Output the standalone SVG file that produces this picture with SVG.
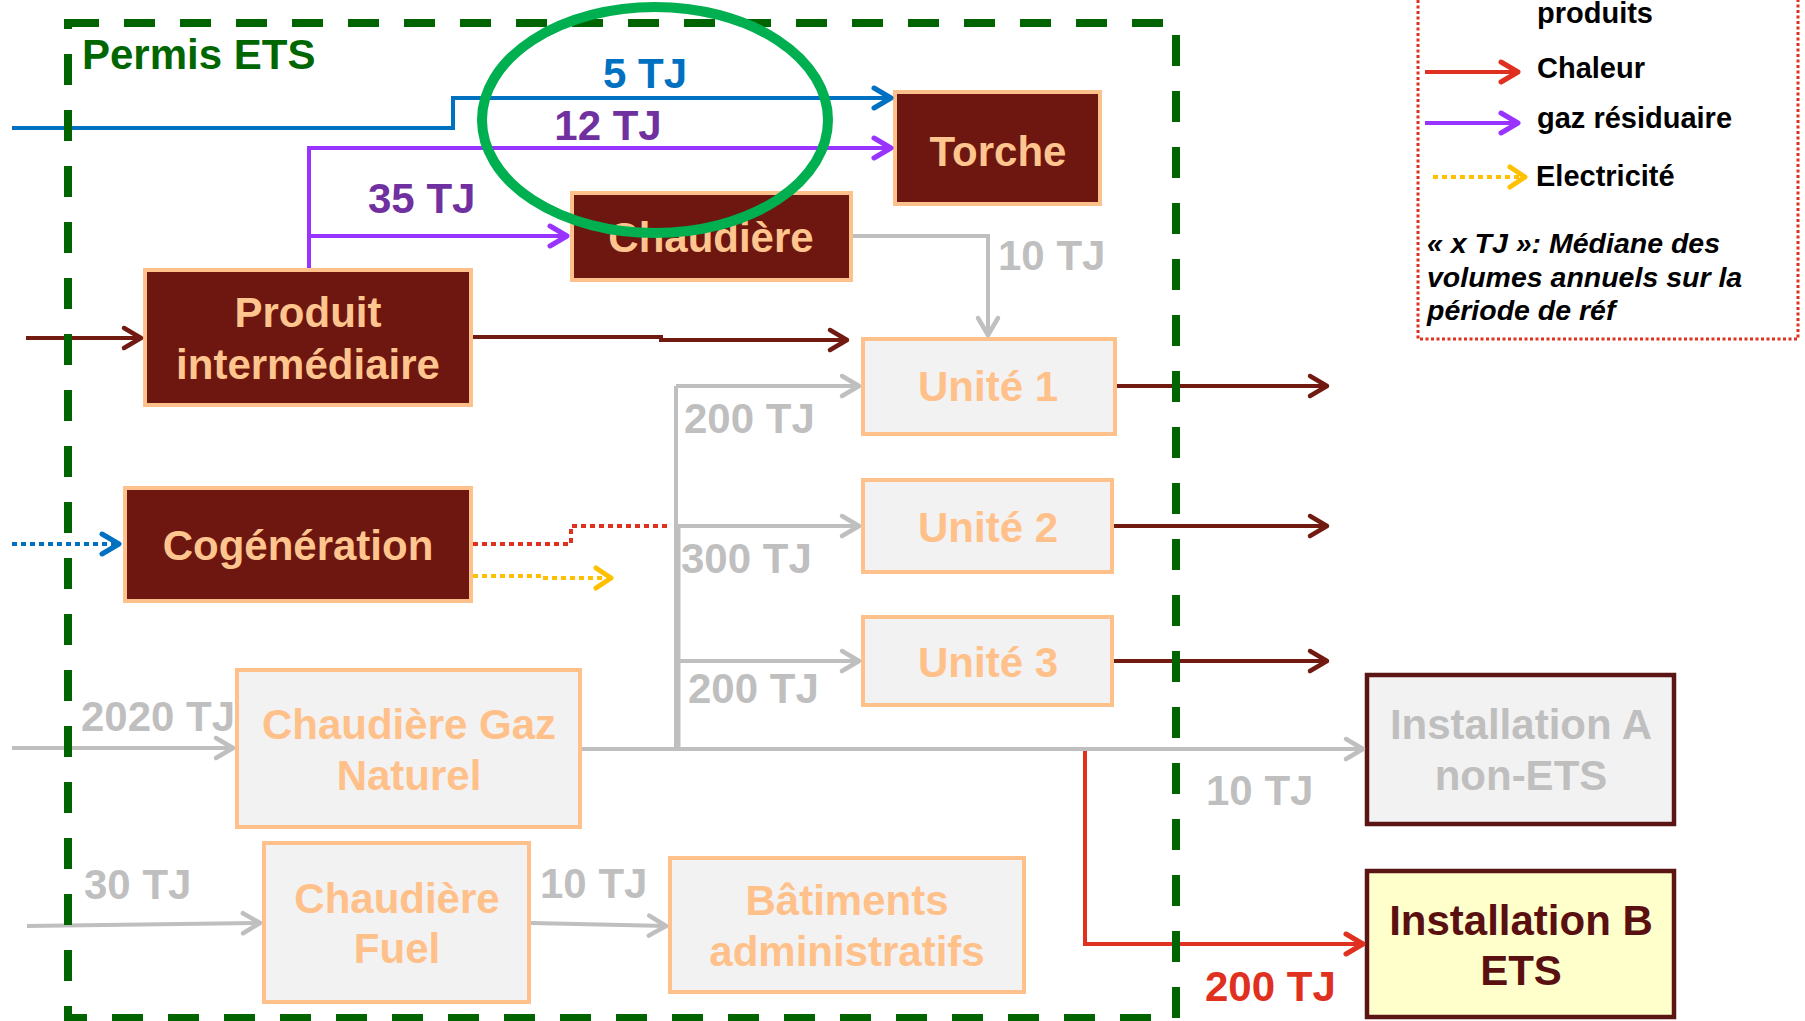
<svg xmlns="http://www.w3.org/2000/svg" width="1805" height="1021" viewBox="0 0 1805 1021">
  <style>
    text { font-family: "Liberation Sans", Arial, sans-serif; font-weight: bold; }
    .lbl { font-size: 42px; }
    .mid { text-anchor: middle; }
    .dark rect { fill: #6E1711; stroke: #FFC18B; stroke-width: 4; }
    .dark text { fill: #FFC58F; }
    .light rect { fill: #F2F2F2; stroke: #FFC18B; stroke-width: 4; }
    .light text { fill: #FFC08A; }
    .inst rect { stroke: #5C1515; stroke-width: 4.5; }
    .c { fill: none; stroke-width: 4; stroke-linejoin: miter; }
    .gray { stroke: #BFBFBF; }
    .brown { stroke: #701A12; }
    .blue { stroke: #0070C0; }
    .violet { stroke: #9933FF; }
    .red { stroke: #E03020; }
    .yellow { stroke: #FFC000; }
    .dot { stroke-dasharray: 5 4; }
    .tGray { fill: #BFBFBF; }
    .tViolet { fill: #7030A0; }
    .tBlue { fill: #0070C0; }
    .tRed { fill: #E03020; }
    .leg { font-size: 29px; fill: #000; }
    .note { font-size: 28.5px; font-style: italic; fill: #000; }
  </style>
  <defs>
    <marker id="mGray" viewBox="-25 -15 30 30" markerWidth="30" markerHeight="30" refX="0" refY="0" orient="auto" markerUnits="userSpaceOnUse">
      <path d="M-18,-10 L-1,0 L-18,10" fill="none" stroke="#BFBFBF" stroke-width="4.5" stroke-linecap="round" stroke-linejoin="round"/>
    </marker>
    <marker id="mBrown" viewBox="-25 -15 30 30" markerWidth="30" markerHeight="30" refX="0" refY="0" orient="auto" markerUnits="userSpaceOnUse">
      <path d="M-18,-10 L-1,0 L-18,10" fill="none" stroke="#701A12" stroke-width="4.5" stroke-linecap="round" stroke-linejoin="round"/>
    </marker>
    <marker id="mBlue" viewBox="-25 -15 30 30" markerWidth="30" markerHeight="30" refX="0" refY="0" orient="auto" markerUnits="userSpaceOnUse">
      <path d="M-18,-10 L-1,0 L-18,10" fill="none" stroke="#0070C0" stroke-width="5" stroke-linecap="round" stroke-linejoin="round"/>
    </marker>
    <marker id="mViolet" viewBox="-25 -15 30 30" markerWidth="30" markerHeight="30" refX="0" refY="0" orient="auto" markerUnits="userSpaceOnUse">
      <path d="M-18,-10 L-1,0 L-18,10" fill="none" stroke="#9933FF" stroke-width="5" stroke-linecap="round" stroke-linejoin="round"/>
    </marker>
    <marker id="mRed" viewBox="-25 -15 30 30" markerWidth="30" markerHeight="30" refX="0" refY="0" orient="auto" markerUnits="userSpaceOnUse">
      <path d="M-18,-10 L-1,0 L-18,10" fill="none" stroke="#E03020" stroke-width="5" stroke-linecap="round" stroke-linejoin="round"/>
    </marker>
    <marker id="mYellow" viewBox="-25 -15 30 30" markerWidth="30" markerHeight="30" refX="0" refY="0" orient="auto" markerUnits="userSpaceOnUse">
      <path d="M-16,-10 L-1,0 L-16,10" fill="none" stroke="#FFC000" stroke-width="5" stroke-linecap="round" stroke-linejoin="round"/>
    </marker>
  </defs>

  <!-- nodes -->
  <g id="torche" class="dark">
    <rect x="895" y="92" width="205" height="112"/>
    <text class="lbl mid" x="998" y="166">Torche</text>
  </g>
  <g id="chaudiere" class="dark">
    <rect x="572" y="193" width="279" height="87"/>
    <text class="lbl mid" x="711" y="252">Chaudière</text>
  </g>
  <g id="produit" class="dark">
    <rect x="145" y="270" width="326" height="135"/>
    <text class="lbl mid" x="308" y="327">Produit</text>
    <text class="lbl mid" x="308" y="379">intermédiaire</text>
  </g>
  <g id="cogeneration" class="dark">
    <rect x="125" y="488" width="346" height="113"/>
    <text class="lbl mid" x="298" y="560">Cogénération</text>
  </g>
  <g id="unite1" class="light">
    <rect x="863" y="339" width="252" height="95"/>
    <text class="lbl mid" x="988" y="401">Unité 1</text>
  </g>
  <g id="unite2" class="light">
    <rect x="863" y="480" width="249" height="92"/>
    <text class="lbl mid" x="988" y="542">Unité 2</text>
  </g>
  <g id="unite3" class="light">
    <rect x="863" y="617" width="249" height="88"/>
    <text class="lbl mid" x="988" y="677">Unité 3</text>
  </g>
  <g id="chaudiere-gaz" class="light">
    <rect x="237" y="670" width="343" height="157"/>
    <text class="lbl mid" x="409" y="739">Chaudière Gaz</text>
    <text class="lbl mid" x="409" y="790">Naturel</text>
  </g>
  <g id="chaudiere-fuel" class="light">
    <rect x="264" y="843" width="265" height="159"/>
    <text class="lbl mid" x="397" y="913">Chaudière</text>
    <text class="lbl mid" x="397" y="963">Fuel</text>
  </g>
  <g id="batiments" class="light">
    <rect x="670" y="858" width="354" height="134"/>
    <text class="lbl mid" x="847" y="915">Bâtiments</text>
    <text class="lbl mid" x="847" y="966">administratifs</text>
  </g>
  <g id="installation-a" class="inst">
    <rect x="1367" y="675" width="307" height="149" fill="#F2F2F2"/>
    <text class="lbl mid tGray" x="1521" y="739">Installation A</text>
    <text class="lbl mid tGray" x="1521" y="790">non-ETS</text>
  </g>
  <g id="installation-b" class="inst">
    <rect x="1367" y="871" width="307" height="146" fill="#FFFFCC"/>
    <text class="lbl mid" x="1521" y="935" fill="#5A1010">Installation B</text>
    <text class="lbl mid" x="1521" y="985" fill="#5A1010">ETS</text>
  </g>

  <!-- connectors -->
  <g id="connectors">
    <path class="c blue" d="M12,128 H453 V98 H892" marker-end="url(#mBlue)"/>
    <path class="c violet" d="M309,268 V148 H892" marker-end="url(#mViolet)"/>
    <path class="c violet" d="M309,236 H568" marker-end="url(#mViolet)"/>
    <path class="c brown" d="M26,338 H142" marker-end="url(#mBrown)"/>
    <path class="c brown" d="M473,337 H661 V340 H848" marker-end="url(#mBrown)"/>
    <path class="c gray" d="M853,236 H988 V336" marker-end="url(#mGray)"/>
    <path class="c brown" d="M1117,386 H1328" marker-end="url(#mBrown)"/>
    <path class="c brown" d="M1114,526 H1328" marker-end="url(#mBrown)"/>
    <path class="c brown" d="M1114,661 H1328" marker-end="url(#mBrown)"/>
    <!-- heat line, its horizontal run hidden under the gas trunk -->
    <path class="c red" d="M582,749 H1085 V944 H1364" marker-end="url(#mRed)"/>
    <path class="c gray" d="M676,386 V748"/>
    <path class="c gray" d="M678.5,526 V748" stroke-width="10"/>
    <path class="c gray" d="M676,386 H860" marker-end="url(#mGray)"/>
    <path class="c gray" d="M676,526 H860" marker-end="url(#mGray)"/>
    <path class="c gray" d="M676,661 H860" marker-end="url(#mGray)"/>
    <path class="c gray" d="M12,748 H234" marker-end="url(#mGray)"/>
    <path class="c gray" d="M582,749 H1364" stroke-width="5.5" marker-end="url(#mGray)"/>
    <path class="c gray" d="M27,926 L261,923" marker-end="url(#mGray)"/>
    <path class="c gray" d="M531,923 L667,926" marker-end="url(#mGray)"/>
    <path class="c blue dot" d="M12,544 H120" marker-end="url(#mBlue)"/>
    <path class="c red dot" d="M473,544 H571 V526 H670"/>
    <path class="c yellow dot" d="M473,576 H542 V578 H612" marker-end="url(#mYellow)"/>
  </g>

  <!-- flow labels -->
  <g id="flow-labels">
    <text class="lbl mid tBlue" x="645" y="88">5 TJ</text>
    <text class="lbl mid tViolet" x="608" y="140">12 TJ</text>
    <text class="lbl tViolet" x="368" y="213">35 TJ</text>
    <text class="lbl tGray" x="998" y="270">10 TJ</text>
    <text class="lbl tGray" x="684" y="433">200 TJ</text>
    <text class="lbl tGray" x="681" y="573">300 TJ</text>
    <text class="lbl tGray" x="688" y="703">200 TJ</text>
    <text class="lbl tGray" x="81" y="731">2020 TJ</text>
    <text class="lbl tGray" x="84" y="899">30 TJ</text>
    <text class="lbl tGray" x="540" y="898">10 TJ</text>
    <text class="lbl tGray" x="1206" y="805">10 TJ</text>
    <text class="lbl tRed" x="1205" y="1001">200 TJ</text>
  </g>

  <!-- ETS permit boundary -->
  <g id="permis-ets">
    <rect x="68" y="23" width="1108" height="995" fill="none" stroke="#006400" stroke-width="8" stroke-dasharray="31 25"/>
    <text x="82" y="69" font-size="42" fill="#006600">Permis ETS</text>
  </g>

  <!-- highlight -->
  <ellipse cx="655" cy="120" rx="173" ry="113" fill="none" stroke="#00B050" stroke-width="10"/>

  <!-- legend -->
  <g id="legend">
    <path d="M1418,0 V339 H1798 V0" fill="none" stroke="#E03020" stroke-width="3" stroke-dasharray="3 2.5"/>
    <text class="leg" x="1537" y="23">produits</text>
    <path class="c red" d="M1425,72 H1519" stroke-width="4.5" marker-end="url(#mRed)"/>
    <text class="leg" x="1537" y="78">Chaleur</text>
    <path class="c violet" d="M1425,123 H1519" stroke-width="4.5" marker-end="url(#mViolet)"/>
    <text class="leg" x="1537" y="128">gaz résiduaire</text>
    <path class="c yellow dot" d="M1433,177 H1526" marker-end="url(#mYellow)"/>
    <text class="leg" x="1536" y="186">Electricité</text>
    <text class="note" x="1427" y="253">« x TJ »: Médiane des</text>
    <text class="note" x="1427" y="287">volumes annuels sur la</text>
    <text class="note" x="1427" y="320">période de réf</text>
  </g>
</svg>
